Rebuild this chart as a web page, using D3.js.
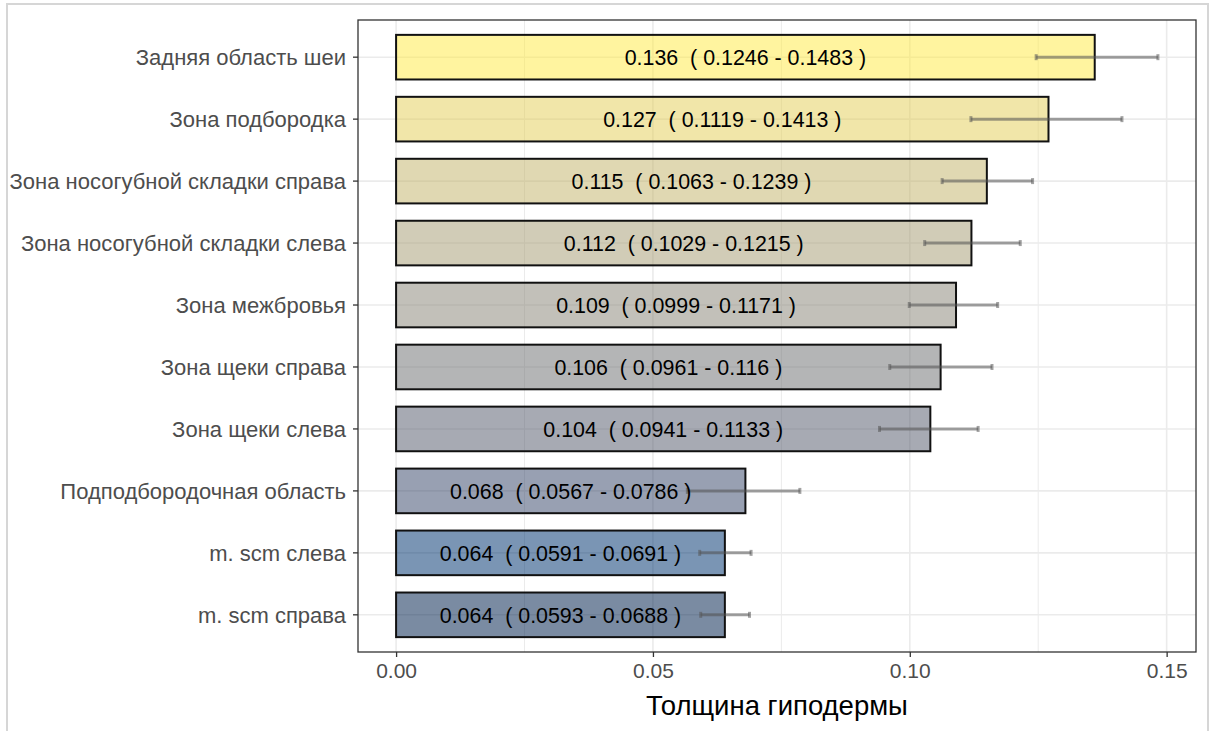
<!DOCTYPE html>
<html>
<head>
<meta charset="utf-8">
<script src="https://cdn.jsdelivr.net/npm/d3@7"></script>
<style>
  html, body { margin: 0; padding: 0; background: #fff; }
  svg { display: block; font-family: "Liberation Sans", Arial, sans-serif; }
</style>
</head>
<body>
<svg id="chart" width="1211" height="731"></svg>
<script>
const categories = [
  "Задняя область шеи",
  "Зона подбородка",
  "Зона носогубной складки справа",
  "Зона носогубной складки слева",
  "Зона межбровья",
  "Зона щеки справа",
  "Зона щеки слева",
  "Подподбородочная область",
  "m. scm слева",
  "m. scm справа"
];
const means = [0.136, 0.127, 0.115, 0.112, 0.109, 0.106, 0.104, 0.068, 0.064, 0.064];
const lowers = [0.1246, 0.1119, 0.1063, 0.1029, 0.0999, 0.0961, 0.0941, 0.0567, 0.0591, 0.0593];
const uppers = [0.1483, 0.1413, 0.1239, 0.1215, 0.1171, 0.116, 0.1133, 0.0786, 0.0691, 0.0688];
const fills = ["#FFEA46", "#E4CF5B", "#C4B56C", "#A69D75", "#8A8779", "#707173", "#575C6D", "#39486B", "#00336F", "#00204D"];
const xTicks = [0.00, 0.05, 0.10, 0.15];
const xTickLabels = ["0.00", "0.05", "0.10", "0.15"];
const xMinorTicks = [0.025, 0.075, 0.125];
const xTitle = "Толщина гиподермы";

const svg = d3.select("#chart");
const panel = { left: 358, right: 1196, top: 20, bottom: 652 };

// outer frame
svg.append("rect")
  .attr("x", 7).attr("y", 4).attr("width", 1201).attr("height", 745)
  .attr("fill", "none").attr("stroke", "#d6d6d6").attr("stroke-width", 2);

const x = d3.scaleLinear().domain([-0.007415, 0.155715]).range([panel.left, panel.right]);
const y = d3.scaleBand().domain(categories).range([panel.top, panel.bottom])
  .paddingInner(0.28).paddingOuter(0.24);

// gridlines
const grid = svg.append("g");
grid.selectAll("line.minor").data(xMinorTicks).join("line")
  .attr("x1", d => x(d)).attr("x2", d => x(d))
  .attr("y1", panel.top).attr("y2", panel.bottom)
  .attr("stroke", "#ebebeb").attr("stroke-width", 1);
grid.selectAll("line.major").data(xTicks).join("line")
  .attr("x1", d => x(d)).attr("x2", d => x(d))
  .attr("y1", panel.top).attr("y2", panel.bottom)
  .attr("stroke", "#ebebeb").attr("stroke-width", 1.6);
grid.selectAll("line.hmajor").data(categories).join("line")
  .attr("x1", panel.left).attr("x2", panel.right)
  .attr("y1", d => y(d) + y.bandwidth() / 2).attr("y2", d => y(d) + y.bandwidth() / 2)
  .attr("stroke", "#ebebeb").attr("stroke-width", 1.6);

// bars
svg.append("g").selectAll("rect").data(categories).join("rect")
  .attr("x", x(0))
  .attr("y", d => y(d))
  .attr("width", (d, i) => x(means[i]) - x(0))
  .attr("height", y.bandwidth())
  .attr("fill", (d, i) => fills[i])
  .attr("fill-opacity", 0.52)
  .attr("stroke", "#111")
  .attr("stroke-width", 2);

// error bars
const eb = svg.append("g").attr("stroke", "#555").attr("stroke-opacity", 0.55);
categories.forEach((c, i) => {
  const cy = y(c) + y.bandwidth() / 2;
  eb.append("line").attr("x1", x(lowers[i])).attr("x2", x(uppers[i]))
    .attr("y1", cy).attr("y2", cy).attr("stroke-width", 3);
  [lowers[i], uppers[i]].forEach(v => {
    eb.append("line").attr("x1", x(v)).attr("x2", x(v))
      .attr("y1", cy - 3).attr("y2", cy + 3).attr("stroke-width", 3);
  });
});

// bar labels
svg.append("g").selectAll("text").data(categories).join("text")
  .attr("x", (d, i) => x(means[i] / 2))
  .attr("y", d => y(d) + y.bandwidth() / 2)
  .attr("dy", "0.37em")
  .attr("text-anchor", "middle")
  .attr("font-size", 21.4)
  .attr("fill", "#000")
  .style("white-space", "pre")
  .text((d, i) => `${means[i]}  ( ${lowers[i]} - ${uppers[i]} )`);

// panel border
svg.append("rect")
  .attr("x", panel.left).attr("y", panel.top)
  .attr("width", panel.right - panel.left).attr("height", panel.bottom - panel.top)
  .attr("fill", "none").attr("stroke", "#333").attr("stroke-width", 1.3);

// y axis
const yAxis = svg.append("g").attr("transform", `translate(${panel.left},0)`)
  .call(d3.axisLeft(y).tickSize(5).tickPadding(7));
yAxis.select(".domain").remove();
yAxis.selectAll(".tick line").attr("stroke", "#333").attr("stroke-width", 1.3);
yAxis.selectAll(".tick text").attr("fill", "#4d4d4d").attr("font-size", 22)
  .attr("dy", "0.35em")
  .attr("font-family", "'Liberation Sans', Arial, sans-serif");

// x axis
const xAxis = svg.append("g").attr("transform", `translate(0,${panel.bottom})`)
  .call(d3.axisBottom(x).tickValues(xTicks).tickFormat((d, i) => xTickLabels[i]).tickSize(5).tickPadding(6));
xAxis.select(".domain").remove();
xAxis.selectAll(".tick line").attr("stroke", "#333").attr("stroke-width", 1.3);
xAxis.selectAll(".tick text").attr("fill", "#4d4d4d").attr("font-size", 21)
  .attr("font-family", "'Liberation Sans', Arial, sans-serif");

// x title
svg.append("text")
  .attr("x", (panel.left + panel.right) / 2)
  .attr("y", 715)
  .attr("text-anchor", "middle")
  .attr("font-size", 27.5)
  .attr("fill", "#000")
  .text(xTitle);
</script>
</body>
</html>
